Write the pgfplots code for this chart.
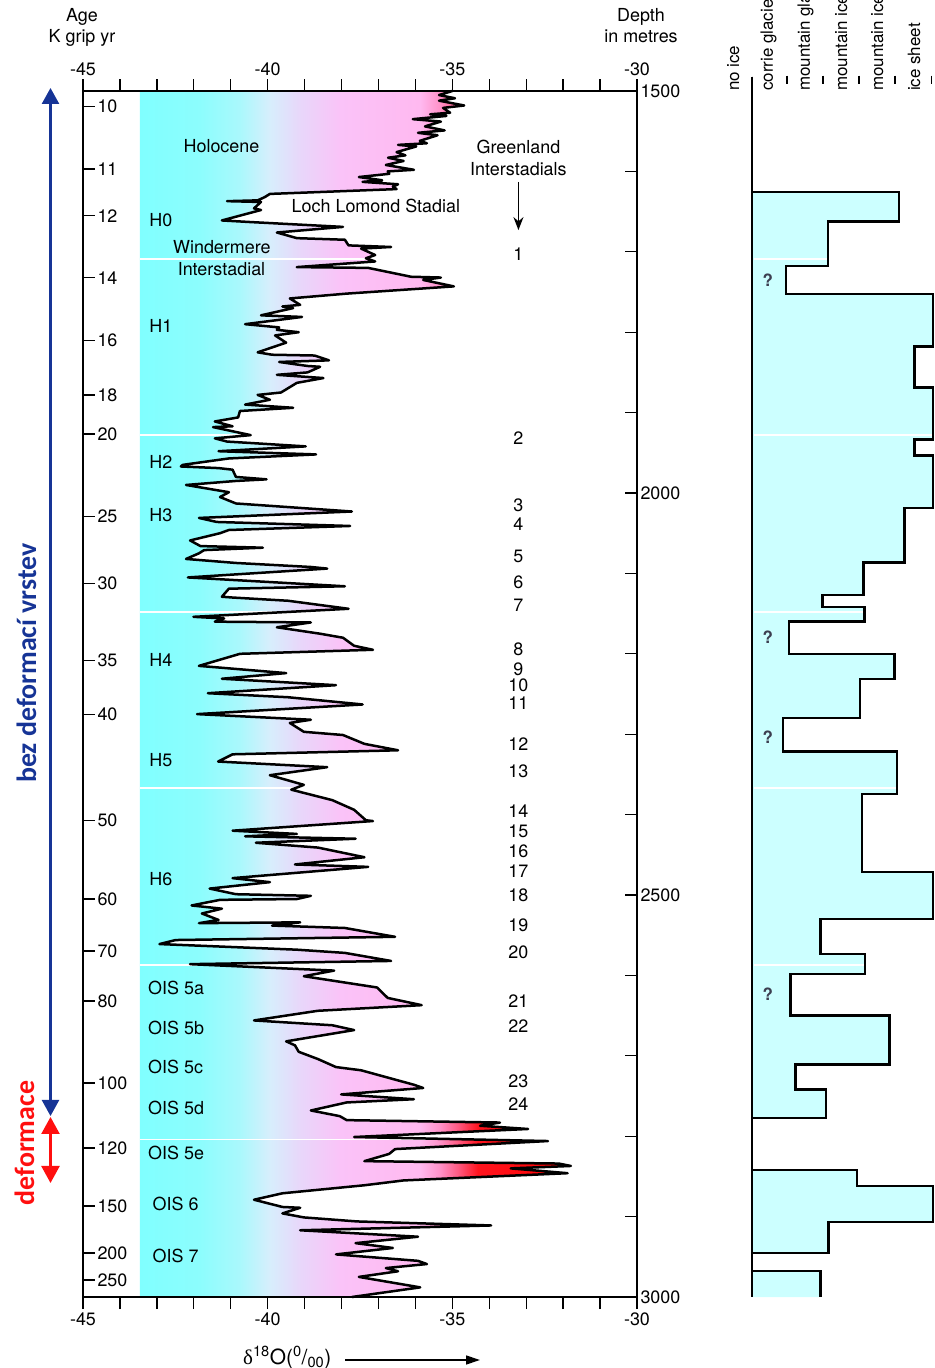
\documentclass[border=0pt]{standalone}
\usepackage{fontspec}
\setmainfont{TeX Gyre Heros}
\newfontfamily\carlito{Carlito}
\newfontfamily\serifd{Liberation Serif}
\usepackage{pgfplots}
\usepackage{pgfplotstable}
\pgfplotsset{compat=1.18}
\usetikzlibrary{arrows.meta}

\definecolor{c0}{RGB}{128,255,255}
\definecolor{c1}{RGB}{140,253,253}
\definecolor{c2}{RGB}{170,248,252}
\definecolor{c3}{RGB}{215,238,252}
\definecolor{c4}{RGB}{232,215,250}
\definecolor{c5}{RGB}{250,195,248}
\definecolor{c6}{RGB}{255,185,240}
\definecolor{c7}{RGB}{255,145,200}
\definecolor{c8}{RGB}{255,90,130}
\definecolor{c9}{RGB}{255,20,30}
\definecolor{c10}{RGB}{255,0,0}
\definecolor{icecyan}{RGB}{204,255,255}
\definecolor{dblue}{RGB}{22,52,150}
\definecolor{dred}{RGB}{255,15,15}
\definecolor{qgray}{RGB}{60,62,80}

\pgfdeclarehorizontalshading{isoshade}{100bp}{color(0bp)=(c0); color(25bp)=(c0); color(31.96bp)=(c1); color(36.6bp)=(c2); color(40.08bp)=(c3); color(43.56bp)=(c4); color(48.2bp)=(c5); color(57.48bp)=(c6); color(59.8bp)=(c7); color(61.89bp)=(c8); color(64.21bp)=(c9); color(75bp)=(c10); color(100bp)=(c10)}

\pgfplotstableread{
x y
-35.00 1500
-35.36 1505
-34.93 1509
-35.36 1512
-34.68 1518
-35.25 1521
-35.06 1527
-35.60 1529
-35.16 1531
-36.07 1535
-35.31 1538
-35.74 1544
-35.21 1549
-35.93 1552
-35.40 1555
-35.88 1562
-35.69 1565
-36.47 1567
-35.98 1569
-36.51 1576
-36.27 1580
-36.74 1583
-36.32 1587
-36.80 1592
-36.04 1598
-36.75 1600
-36.71 1603
-37.53 1607
-36.90 1611
-37.43 1613
-36.47 1616
-36.61 1619
-36.51 1622
-39.94 1628
-40.08 1632
-40.27 1636
-41.10 1637
-40.18 1638
-40.37 1646
-40.18 1648
-41.24 1661
-40.46 1663
-37.96 1669
-39.75 1676
-39.21 1683
-37.91 1685
-37.81 1692
-36.66 1694
-37.47 1696
-37.09 1704
-37.34 1708
-37.09 1712
-39.21 1719
-37.28 1720
-36.12 1731
-35.31 1732
-35.79 1735
-34.96 1743
-37.86 1752
-39.40 1758
-39.12 1766
-39.60 1768
-39.31 1770
-40.18 1779
-39.07 1781
-40.61 1790
-39.69 1794
-39.75 1797
-39.16 1800
-39.80 1804
-39.50 1813
-40.27 1825
-39.88 1828
-38.73 1829
-38.34 1835
-39.69 1837
-38.92 1842
-38.58 1843
-38.92 1850
-39.75 1853
-38.49 1857
-39.21 1863
-39.64 1875
-40.27 1878
-39.94 1884
-40.61 1890
-39.31 1894
-40.75 1898
-40.80 1906
-41.43 1911
-40.95 1917
-41.48 1918
-40.46 1928
-41.43 1932
-41.10 1936
-38.97 1942
-41.33 1948
-38.69 1952
-41.05 1957
-42.30 1965
-42.35 1967
-41.33 1969
-40.95 1971
-40.86 1980
-40.03 1983
-40.86 1985
-42.21 1990
-41.05 1999
-41.29 2005
-40.86 2013
-37.72 2023
-41.86 2031
-41.38 2036
-37.77 2041
-41.05 2046
-41.29 2050
-42.10 2059
-41.82 2066
-40.13 2068
-41.72 2071
-41.86 2075
-42.21 2082
-40.86 2087
-38.83 2092
-38.39 2094
-42.16 2105
-37.91 2116
-41.05 2119
-41.24 2129
-40.95 2130
-39.45 2134
-37.81 2144
-42.01 2154
-41.18 2156
-41.43 2160
-38.83 2161
-39.75 2167
-38.58 2175
-37.96 2180
-37.66 2190
-37.15 2195
-40.75 2200
-41.86 2215
-39.50 2224
-41.24 2231
-38.15 2239
-41.62 2249
-39.45 2254
-37.43 2263
-41.91 2275
-38.83 2282
-39.40 2286
-39.02 2297
-37.96 2301
-37.38 2312
-36.47 2320
-40.95 2325
-41.34 2334
-38.39 2341
-39.94 2351
-39.02 2363
-39.36 2369
-38.25 2382
-37.66 2394
-37.34 2407
-37.15 2408
-40.95 2420
-39.21 2424
-40.61 2427
-37.62 2430
-40.32 2435
-38.64 2441
-37.38 2453
-39.26 2462
-37.28 2465
-40.95 2479
-39.94 2484
-41.57 2492
-40.86 2499
-38.83 2501
-39.21 2505
-41.29 2506
-42.06 2513
-41.24 2517
-41.78 2523
-41.33 2531
-41.86 2535
-39.12 2534
-39.88 2538
-37.91 2541
-36.55 2552
-42.49 2556
-42.93 2561
-39.21 2568
-37.91 2572
-36.66 2582
-42.10 2586
-38.20 2594
-39.02 2601
-37.04 2615
-36.75 2628
-35.83 2637
-38.64 2644
-40.37 2656
-38.25 2662
-37.66 2668
-39.50 2682
-39.26 2687
-39.16 2695
-38.64 2704
-38.15 2714
-37.47 2718
-36.04 2736
-35.79 2740
-38.01 2748
-36.04 2754
-37.86 2758
-38.83 2768
-38.05 2775
-37.86 2780
-33.71 2783
-34.25 2787
-32.95 2791
-37.66 2801
-32.41 2806
-36.55 2816
-36.71 2822
-37.38 2831
-32.12 2834
-31.79 2837
-33.42 2840
-31.88 2846
-36.32 2855
-37.38 2861
-39.60 2871
-40.37 2879
-39.60 2888
-39.12 2889
-39.60 2896
-39.02 2901
-37.58 2906
-33.95 2911
-39.12 2917
-35.93 2925
-37.62 2933
-36.61 2939
-38.15 2947
-35.93 2955
-35.69 2959
-36.80 2964
-36.47 2968
-37.53 2975
-35.87 2988
-37.72 3000
}\curve

\pgfplotstableread{
x y
0 1482
4.08 1625.6
2.11 1662.4
0.94 1717.7
5.03 1752.5
4.52 1817.9
5.03 1869.0
4.52 1933.5
5.03 1953.5
4.24 2018.7
3.10 2086.7
1.96 2126.8
3.12 2141.8
1.03 2160.0
3.96 2200.0
3.00 2231.1
0.86 2279.9
4.03 2321.5
3.05 2374.4
5.03 2471.3
1.91 2529.8
3.14 2573.4
1.07 2598.3
3.82 2650.0
1.21 2710.7
2.06 2742.1
0 2777.4
2.92 2842.1
5.03 2861.9
2.13 2906.6
0 2945.3
1.91 2967.7
1.91 3000
}\ice

\begin{document}
\begin{tikzpicture}[font=\fontsize{18}{21}\selectfont]
\path[use as bounding box] (0,0) rectangle (935bp,1368bp);

% ---------- main axis: bottom and left ----------
\begin{axis}[
  at={(83bp,71bp)}, anchor=south west, scale only axis,
  width=554bp, height=1206bp,
  xmin=-45, xmax=-30, ymin=1500, ymax=3000, y dir=reverse,
  axis line style={line width=1.8bp},
  tick label style={font=\fontsize{18}{21}\selectfont},
  xtick={-45,-40,-35,-30}, xticklabels={-45,-40,-35,-30},
  minor xtick={-44,-43,-42,-41,-39,-38,-37,-36,-34,-33,-32,-31},
  xtick pos=left, xticklabel pos=left, xtick align=outside,
  ytick={1519.5,1597,1655.1,1732.2,1810.3,1878.1,1926.6,2029.2,2112.6,2208.3,2275.3,2407.4,2505,2569.7,2631.9,2733.8,2814.7,2886.8,2945.3,2978.9},
  yticklabels={10,11,12,14,16,18,20,25,30,35,40,50,60,70,80,100,120,150,200,250},
  ytick pos=left, yticklabel pos=left, ytick align=inside,
  yticklabel style={anchor=west, xshift=11bp},
  major tick length=12bp, minor tick length=12bp,
  tick style={black, line width=1.3bp},
  clip=false,
]
\addplot[draw=none, shade, shading=isoshade, forget plot] table[x=x,y=y]{\curve} -- (axis cs:-43.46,3000) -- (axis cs:-43.46,1500) -- cycle;
\foreach \d in {1709,1928,2148,2367,2587,2804}{
  \edef\tmp{\noexpand\draw[white, line width=1.3bp] (axis cs:-43.46,\d) -- (axis cs:-30.3,\d);}\tmp
}
\addplot[black, line width=2.5bp, line join=round, forget plot] table[x=x,y=y]{\curve};

\begin{scope}[every node/.style={inner sep=0pt, font=\fontsize{18}{21}\selectfont}]
\node[anchor=base] at (axis cs:-41.25,1576.5) {Holocene};
\node[anchor=base] at (axis cs:-33.21,1577.1) {Greenland};
\node[anchor=base] at (axis cs:-33.21,1605.1) {Interstadials};
\node[anchor=base] at (axis cs:-37.07,1650.5) {Loch Lomond Stadial};
\node[anchor=base] at (axis cs:-41.24,1701.9) {Windermere};
\node[anchor=base] at (axis cs:-41.25,1728.9) {Interstadial};
\node[anchor=base west] at (axis cs:-43.21,1668.8) {H0};
\node[anchor=base west] at (axis cs:-43.21,1799.8) {H1};
\node[anchor=base west] at (axis cs:-43.21,1969.4) {H2};
\node[anchor=base west] at (axis cs:-43.21,2036) {H3};
\node[anchor=base west] at (axis cs:-43.21,2216.4) {H4};
\node[anchor=base west] at (axis cs:-43.21,2340.3) {H5};
\node[anchor=base west] at (axis cs:-43.21,2488.1) {H6};
\node[anchor=base west] at (axis cs:-43.24,2624.1) {OIS 5a};
\node[anchor=base west] at (axis cs:-43.24,2673.4) {OIS 5b};
\node[anchor=base west] at (axis cs:-43.24,2722.4) {OIS 5c};
\node[anchor=base west] at (axis cs:-43.24,2772.6) {OIS 5d};
\node[anchor=base west] at (axis cs:-43.24,2828.4) {OIS 5e};
\node[anchor=base west] at (axis cs:-43.12,2893) {OIS 6};
\node[anchor=base west] at (axis cs:-43.12,2957.4) {OIS 7};
\node[anchor=base] at (axis cs:-33.21,1710.2) {1};
\node[anchor=base] at (axis cs:-33.21,1940) {2};
\node[anchor=base] at (axis cs:-33.21,2023.6) {3};
\node[anchor=base] at (axis cs:-33.21,2047) {4};
\node[anchor=base] at (axis cs:-33.21,2087) {5};
\node[anchor=base] at (axis cs:-33.21,2118.2) {6};
\node[anchor=base] at (axis cs:-33.21,2146.8) {7};
\node[anchor=base] at (axis cs:-33.21,2201.5) {8};
\node[anchor=base] at (axis cs:-33.21,2226.4) {9};
\node[anchor=base] at (axis cs:-33.21,2247.3) {10};
\node[anchor=base] at (axis cs:-33.21,2268.7) {11};
\node[anchor=base] at (axis cs:-33.21,2319.7) {12};
\node[anchor=base] at (axis cs:-33.21,2353.7) {13};
\node[anchor=base] at (axis cs:-33.21,2403.6) {14};
\node[anchor=base] at (axis cs:-33.21,2427.9) {15};
\node[anchor=base] at (axis cs:-33.21,2452.8) {16};
\node[anchor=base] at (axis cs:-33.21,2478.5) {17};
\node[anchor=base] at (axis cs:-33.21,2508.1) {18};
\node[anchor=base] at (axis cs:-33.21,2544.8) {19};
\node[anchor=base] at (axis cs:-33.21,2578.7) {20};
\node[anchor=base] at (axis cs:-33.21,2640) {21};
\node[anchor=base] at (axis cs:-33.21,2670.8) {22};
\node[anchor=base] at (axis cs:-33.21,2739.1) {23};
\node[anchor=base] at (axis cs:-33.21,2767.4) {24};
\end{scope}
\draw[-{Stealth[length=13bp,width=10bp]}, line width=1.4bp] (axis cs:-33.21,1613) -- (axis cs:-33.21,1673);
\end{axis}

% ---------- overlay axis: top and right ----------
\begin{axis}[
  at={(83bp,71bp)}, anchor=south west, scale only axis,
  width=554bp, height=1206bp,
  xmin=-45, xmax=-30, ymin=1500, ymax=3000, y dir=reverse,
  axis line style={line width=1.8bp},
  tick label style={font=\fontsize{18}{21}\selectfont},
  xtick={-45,-40,-35,-30}, xticklabels={-45,-40,-35,-30},
  minor xtick={-44,-43,-42,-41,-39,-38,-37,-36,-34,-33,-32,-31},
  xtick pos=right, xticklabel pos=right, xtick align=outside,
  ytick={1500,2000,2500,3000}, yticklabels={1500,2000,2500,3000},
  minor ytick={1600,1700,1800,1900,2100,2200,2300,2400,2600,2700,2800,2900},
  ytick pos=right, yticklabel pos=right, ytick align=inside,
  major tick length=12bp, minor tick length=12bp,
  tick style={black, line width=1.3bp},
]
\addplot[draw=none, forget plot] coordinates {(-45,1500)};
\end{axis}

% ---------- glaciation panel ----------
\begin{axis}[
  at={(752bp,71bp)}, anchor=south west, scale only axis,
  width=183bp, height=1206bp,
  xmin=0, xmax=5.083, ymin=1500, ymax=3000, y dir=reverse,
  axis lines=none, clip=false,
]
\addplot[const plot mark right, draw=none, fill=icecyan, forget plot] table[x=x,y=y]{\ice} -- (axis cs:0,3000) -- cycle;
\foreach \d in {1709,1928,2148,2367,2587,2804}{
  \edef\tmp{\noexpand\draw[white, line width=1.3bp] (axis cs:0.05,\d) -- (axis cs:5.0,\d);}\tmp
}
\addplot[const plot mark right, black, line width=2.6bp, forget plot] table[x=x,y=y]{\ice};
\draw[black, line width=2.6bp] (axis cs:0,1482) -- (axis cs:0,3000);
\foreach \c in {0.97,1.97,2.97,3.97,4.99}{
  \edef\tmp{\noexpand\draw[black, line width=1.2bp] (axis cs:\c,1481) -- (axis cs:\c,1491);}\tmp
}
\begin{scope}[every node/.style={inner sep=0pt, rotate=90, anchor=base west, font=\fontsize{17}{20}\selectfont}]
\node at (axis cs:-0.36,1500) {no ice};
\node at (axis cs:0.58,1500) {corrie glacier};
\node at (axis cs:1.61,1500) {mountain glacier};
\node at (axis cs:2.64,1500) {mountain ice cap};
\node at (axis cs:3.64,1500) {mountain icefield};
\node at (axis cs:4.67,1500) {ice sheet};
\end{scope}
\begin{scope}[every node/.style={inner sep=0pt, text=qgray, font=\bfseries\fontsize{17}{17}\selectfont}]
\node at (axis cs:0.44,1735) {?};
\node at (axis cs:0.44,2179) {?};
\node at (axis cs:0.44,2303.5) {?};
\node at (axis cs:0.44,2623) {?};
\end{scope}
\end{axis}

% ---------- labels outside ----------
\node[anchor=base, inner sep=0pt] at (82bp,1346bp) {Age};
\node[anchor=base, inner sep=0pt] at (82bp,1325bp) {K grip yr};
\node[anchor=base, inner sep=0pt] at (641bp,1346bp) {Depth};
\node[anchor=base, inner sep=0pt] at (641bp,1325bp) {in metres};

\node[anchor=base west, inner sep=0pt, font=\fontsize{21}{24}\selectfont] at (243bp,4bp) {{\serifd δ}\textsuperscript{18}O(\textsuperscript{0}/\textsubscript{00})};
\draw[-{Triangle[length=14bp,width=9bp]}, line width=1.3bp] (345bp,8bp) -- (480bp,8bp);

\draw[dblue, line width=2.4bp, {Triangle[length=16bp,width=17bp]}-{Triangle[length=16bp,width=17bp]}] (50.5bp,1280bp) -- (50.5bp,252bp);
\draw[dred, line width=2.4bp, {Triangle[length=17bp,width=18bp]}-{Triangle[length=17bp,width=18bp]}] (50.5bp,251bp) -- (50.5bp,185bp);
\node[rotate=90, anchor=base, inner sep=0pt, text=dblue, font=\carlito\bfseries\fontsize{28}{30}\selectfont] at (36bp,705bp) {bez deformací vrstev};
\node[rotate=90, anchor=base, inner sep=0pt, text=dred, font=\carlito\bfseries\fontsize{28}{30}\selectfont] at (34bp,225bp) {deformace};
\end{tikzpicture}
\end{document}
